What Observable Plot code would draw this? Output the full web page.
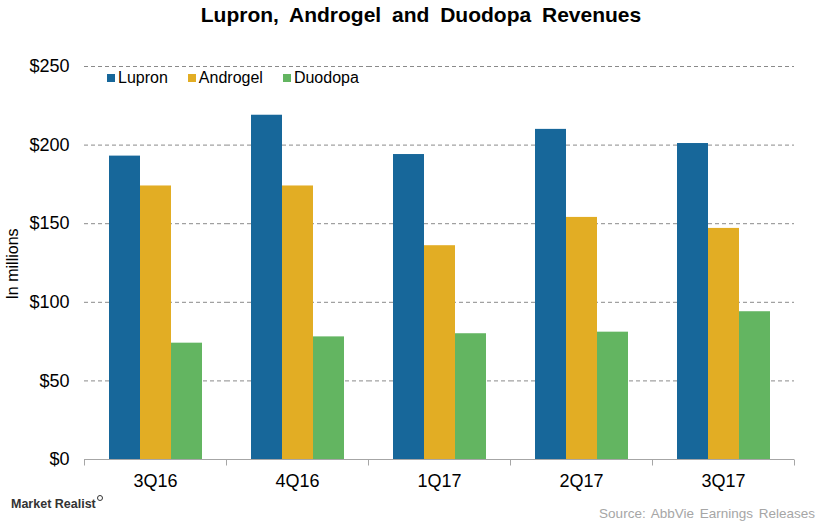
<!DOCTYPE html>
<html>
<head>
<meta charset="utf-8">
<script src="https://cdn.jsdelivr.net/npm/d3@7"></script>
<script src="https://cdn.jsdelivr.net/npm/@observablehq/plot@0.6"></script>
<style>
  body { margin: 0; background: #fff; font-family: "Liberation Sans", Arial, sans-serif; }
  #wrap { position: relative; width: 836px; height: 526px; overflow: hidden; background: #fff; }
  #wrap svg { position: absolute; left: 0; top: 0; }
  .title { position: absolute; left: 3px; top: 0; width: 836px; text-align: center; font-size: 21px; font-weight: bold; line-height: 30px; word-spacing: 5px; color: #000; }
  .ylabel { position: absolute; left: 13px; top: 264px; transform: translate(-50%, -50%) rotate(-90deg); font-size: 16px; white-space: nowrap; color: #000; }
  .legend { position: absolute; left: 107px; top: 68px; display: flex; align-items: center; font-size: 16px; line-height: 20px; color: #000; }
  .legend .item { display: flex; align-items: center; margin-right: 20px; }
  .legend .sw { width: 8px; height: 8px; margin-right: 3px; }
  .source { position: absolute; right: 21px; top: 506px; font-size: 13.5px; line-height: 16px; color: #a6a6a6; word-spacing: 2px; white-space: nowrap; }
  .logo { position: absolute; left: 11px; top: 497px; font-family: "Liberation Sans Narrow", "Liberation Sans", sans-serif; font-weight: bold; font-size: 12.5px; line-height: 15px; color: #333; white-space: nowrap; }
  .logo .mag { display: inline-block; width: 4px; height: 4px; border: 1.5px solid #333; border-radius: 50%; position: relative; top: -7px; margin-left: 1px; }
</style>
</head>
<body>
<div id="wrap"></div>
<script>
const titleText = "Lupron, Androgel and Duodopa Revenues";
const yLabelText = "In millions";
const sourceText = "Source: AbbVie Earnings Releases";
const logoText = "Market Realist";

const quarters = ["3Q16", "4Q16", "1Q17", "2Q17", "3Q17"];
const series = ["Lupron", "Androgel", "Duodopa"];
const colors = ["#17679a", "#e2ad24", "#63b561"];
const lupron = [193, 219, 194, 210, 201];
const androgel = [174, 174, 136, 154, 147];
const duodopa = [74, 78, 80, 81, 94];
const yTicks = [0, 50, 100, 150, 200, 250];

const valuesBySeries = { Lupron: lupron, Androgel: androgel, Duodopa: duodopa };
const data = quarters.flatMap((q, i) =>
  series.map(s => ({ quarter: q, series: s, value: valuesBySeries[s][i] }))
);

const wrap = document.getElementById("wrap");

const chart = Plot.plot({
  width: 836,
  height: 526,
  marginTop: 66,
  marginBottom: 67,
  marginLeft: 83,
  marginRight: 41,
  style: { fontFamily: '"Liberation Sans", Arial, sans-serif', fontSize: "18px", color: "#000", background: "transparent" },
  fx: { domain: quarters, padding: 0, label: null },
  x: { domain: series, paddingInner: 0, paddingOuter: 0.77, axis: null },
  y: { domain: [0, 250], label: null },
  color: { domain: series, range: colors },
  marks: [
    Plot.gridY(yTicks.filter(d => d > 0), { stroke: "#8a8a8a", strokeOpacity: 1, strokeDasharray: "4,3" }),
    Plot.axisY(yTicks, { tickSize: 0, tickPadding: 15, tickFormat: d => "$" + d, fontSize: 18, label: null }),
    Plot.axisFx({ anchor: "bottom", tickSize: 0, tickPadding: 15, fontSize: 18, label: null }),
    Plot.barY(data, { fx: "quarter", x: "series", y: "value", fill: "series" }),
    Plot.ruleY([0], { stroke: "#a6a6a6" })
  ]
});
wrap.appendChild(chart);

// category boundary ticks below the baseline, placed with Plot's fx scale
const fxs = chart.scale("fx");
const ys = chart.scale("y");
const y0 = ys.apply(0);
const bounds = quarters.map(q => fxs.apply(q)).concat([fxs.apply(quarters[quarters.length - 1]) + fxs.bandwidth]);
d3.select(chart).append("g")
  .selectAll("line").data(bounds).join("line")
  .attr("x1", d => Math.round(d) + 0.5).attr("x2", d => Math.round(d) + 0.5)
  .attr("y1", Math.round(y0) + 0.5).attr("y2", Math.round(y0) + 6.5)
  .attr("stroke", "#a6a6a6");

// title
const t = document.createElement("div");
t.className = "title"; t.textContent = titleText; wrap.appendChild(t);

// y label
const yl = document.createElement("div");
yl.className = "ylabel"; yl.textContent = yLabelText; wrap.appendChild(yl);

// legend
const lg = document.createElement("div");
lg.className = "legend";
series.forEach((s, i) => {
  const it = document.createElement("div"); it.className = "item";
  const sw = document.createElement("div"); sw.className = "sw"; sw.style.background = colors[i];
  const tx = document.createElement("span"); tx.textContent = s;
  it.appendChild(sw); it.appendChild(tx); lg.appendChild(it);
});
wrap.appendChild(lg);

// source
const src = document.createElement("div");
src.className = "source"; src.textContent = sourceText; wrap.appendChild(src);

// logo
const logo = document.createElement("div");
logo.className = "logo";
logo.appendChild(document.createTextNode(logoText));
const mag = document.createElement("span"); mag.className = "mag"; logo.appendChild(mag);
wrap.appendChild(logo);
</script>
</body>
</html>
